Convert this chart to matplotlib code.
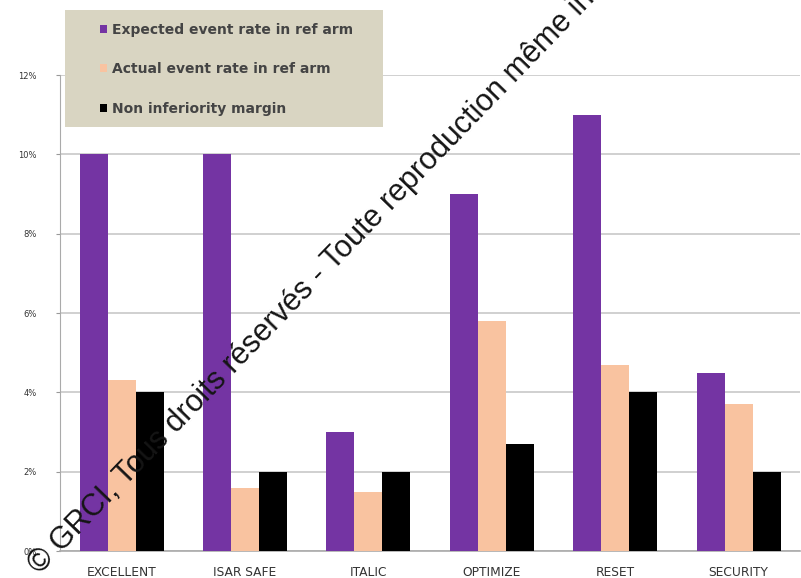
import matplotlib.pyplot as plt
from matplotlib.patches import Rectangle
import numpy as np

# event rates per trial, in %
trials = ['EXCELLENT', 'ISAR SAFE', 'ITALIC', 'OPTIMIZE', 'RESET', 'SECURITY']
expected_rate = [10.0, 10.0, 3.0, 9.0, 11.0, 4.5]
actual_rate = [4.3, 1.6, 1.5, 5.8, 4.7, 3.7]
ni_margin = [4.0, 2.0, 2.0, 2.7, 4.0, 2.0]

series_names = ['Expected event rate in ref arm',
                'Actual event rate in ref arm',
                'Non inferiority margin']
series_colors = ['#7434a3', '#f9c3a0', '#000000']

fig = plt.figure(figsize=(8.01, 5.78), dpi=100)
ax = fig.add_axes([0.075, 0.0467, 0.924, 0.8235])

x = np.arange(len(trials))
w = 0.227
for i, (vals, name, col) in enumerate(zip([expected_rate, actual_rate, ni_margin],
                                           series_names, series_colors)):
    ax.bar(x + (i - 1) * w, vals, width=w, color=col, label=name, zorder=3)

ax.set_xlim(-0.5, len(trials) - 0.5)
ax.set_ylim(0, 12)
ax.set_yticks(np.arange(0, 13, 2))
ax.set_yticklabels([f'{v}%' for v in range(0, 13, 2)], fontsize=6,
                   family='Liberation Sans Narrow', color='#333333')
ax.set_xticks(x)
ax.set_xticklabels(trials, fontsize=8.8, family='Liberation Sans Narrow',
                   color='#333333')
ax.tick_params(axis='x', length=0, pad=11)
ax.tick_params(axis='y', length=3, color='#999999', pad=14)
ax.grid(axis='y', color='#c8c8c8', linewidth=1.2, zorder=0)
for s in ['top', 'right']:
    ax.spines[s].set_visible(False)
ax.spines['left'].set_color('#aaaaaa')
ax.spines['bottom'].set_color('#aaaaaa')
ax.spines['bottom'].set_linewidth(1.2)

# legend panel
fig.patches.append(Rectangle((65 / 801, 1 - 127 / 578), 318 / 801, 117 / 578,
                             transform=fig.transFigure, facecolor='#d9d5c2',
                             edgecolor='none', zorder=1))
leg = fig.legend(loc='upper left', bbox_to_anchor=(100 / 801, 1 - 23 / 578),
                 frameon=False, fontsize=10,
                 handlelength=0.5, handleheight=0.5, handletextpad=0.4,
                 labelspacing=1.82, borderpad=0, borderaxespad=0)
for t in leg.get_texts():
    t.set_fontweight('bold')
    t.set_color('#444444')

# copyright stamp across the chart
fig.text(40 / 801, 3 / 578, '© GRCI, Tous droits réservés - Toute reproduction même interdite',
         rotation=46, rotation_mode='anchor', ha='left', va='baseline',
         fontsize=22, family='Liberation Sans', color='#151515', zorder=10)

fig.savefig('out.png', dpi=100)
